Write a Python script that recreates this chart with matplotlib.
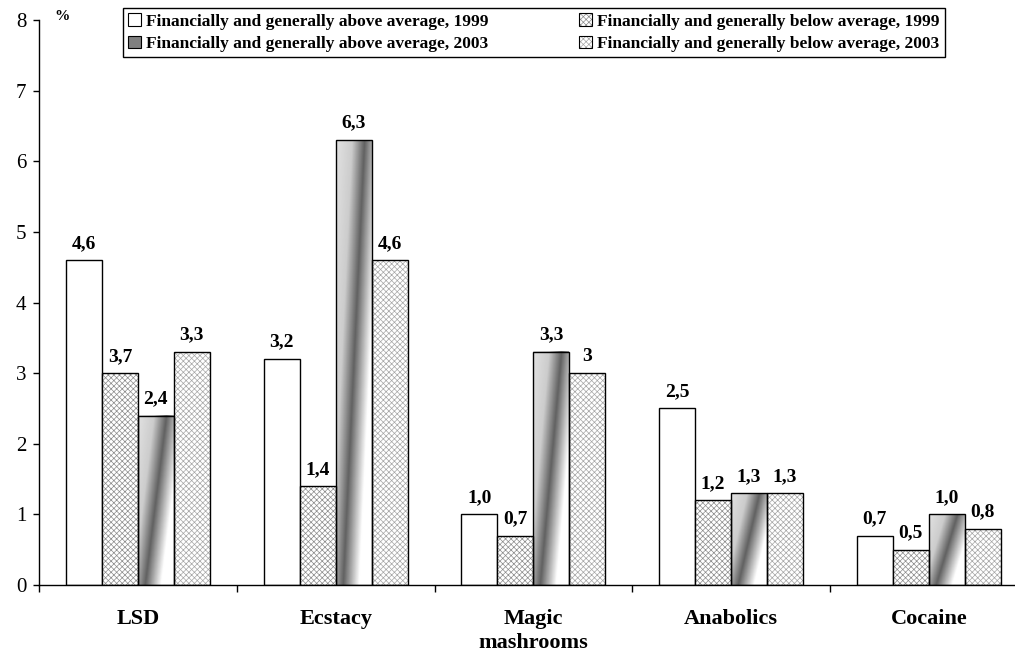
import numpy as np
import matplotlib
matplotlib.use("Agg")
import matplotlib.pyplot as plt
from matplotlib.patches import Patch

plt.rcParams["font.family"] = ["Liberation Serif", "DejaVu Serif"]
plt.rcParams["hatch.linewidth"] = 0.5

categories = ["LSD", "Ecstacy", "Magic\nmashrooms", "Anabolics", "Cocaine"]
names = ["Financially and generally above average, 1999",
         "Financially and generally below average, 1999",
         "Financially and generally above average, 2003",
         "Financially and generally below average, 2003"]
above_1999 = [4.6, 3.2, 1.0, 2.5, 0.7]
below_1999 = [3.0, 1.4, 0.7, 1.2, 0.5]
above_2003 = [2.4, 6.3, 3.3, 1.3, 1.0]
below_2003 = [3.3, 4.6, 3.0, 1.3, 0.8]
lab_above_1999 = ["4,6", "3,2", "1,0", "2,5", "0,7"]
lab_below_1999 = ["3,7", "1,4", "0,7", "1,2", "0,5"]
lab_above_2003 = ["2,4", "6,3", "3,3", "1,3", "1,0"]
lab_below_2003 = ["3,3", "4,6", "3", "1,3", "0,8"]

values = [above_1999, below_1999, above_2003, below_2003]
texts = [lab_above_1999, lab_below_1999, lab_above_2003, lab_below_2003]

fig = plt.figure(figsize=(10.15, 6.57), dpi=100)
ax = fig.add_axes([39/1015, 72/657, 976/1015, 565/657])

x = np.arange(len(categories))
w = 0.182
offs = [-1.5*w, -0.5*w, 0.5*w, 1.5*w]

# diagonal gradient fill for the 2003 above-average bars
uu, vv = np.meshgrid(np.linspace(0, 1, 60), np.linspace(1, 0, 120))
dd = uu - (0.2 + 0.6*vv)
grad = np.interp(dd, [-1, -0.35, 0, 0.45, 1], [0.92, 0.8, 0.38, 1.0, 1.0])

hatch_col = ["", "#8c8c8c", "", "#a6a6a6"]

for k in range(4):
    xs = x + offs[k]
    if k == 0:
        ax.bar(xs, values[k], w, color="white", edgecolor="black", lw=1, zorder=2)
    elif k == 2:
        bars = ax.bar(xs, values[k], w, color="none", edgecolor="black", lw=1, zorder=3)
        for b in bars:
            ax.imshow(grad, extent=[b.get_x(), b.get_x()+b.get_width(), 0, b.get_height()],
                      aspect="auto", cmap="gray", vmin=0, vmax=1, zorder=2,
                      interpolation="bilinear")
    else:
        ax.bar(xs, values[k], w, color="white", edgecolor=hatch_col[k], hatch="xxxxxx",
               lw=0, zorder=2)
        ax.bar(xs, values[k], w, color="none", edgecolor="black", lw=1, zorder=3)
    for xi, v, t in zip(xs, values[k], texts[k]):
        ax.annotate(t, (xi, v), xytext=(0, 6), textcoords="offset points",
                    ha="center", va="bottom", fontsize=14, fontweight="bold")

ax.set_yticks(range(9))
ax.tick_params(axis="y", direction="out", length=4, width=1, labelsize=15, pad=5)
ax.set_xticks(np.arange(-0.5, 4.0, 1.0))
ax.set_xticklabels([])
ax.tick_params(axis="x", which="major", direction="out", length=5, width=1)
ax.set_xticks(x, minor=True)
ax.set_xticklabels(categories, minor=True, fontsize=16, fontweight="bold", linespacing=1.3)
ax.tick_params(axis="x", which="minor", length=0, pad=17)
# limits after ticks, so the tick list does not widen the view
ax.set_xlim(-0.5, -0.5 + 976/197.75)
ax.set_ylim(0, 8)

for s in ["top", "right"]:
    ax.spines[s].set_visible(False)
ax.spines["left"].set_linewidth(1)
ax.spines["bottom"].set_linewidth(1)

fig.text(62/1015, 1 - 17/657, "%", ha="center", va="center", fontsize=11, fontweight="bold")

h0 = Patch(facecolor="white", edgecolor="black", lw=0.8)
h1 = (Patch(facecolor="white", edgecolor=hatch_col[1], hatch="xxxxxx", lw=0),
      Patch(facecolor="none", edgecolor="black", lw=0.8))
h2 = Patch(facecolor="#808080", edgecolor="black", lw=0.8)
h3 = (Patch(facecolor="white", edgecolor=hatch_col[3], hatch="xxxxxx", lw=0),
      Patch(facecolor="none", edgecolor="black", lw=0.8))
leg = fig.legend([h0, h2, h1, h3], [names[0], names[2], names[1], names[3]],
                 ncol=2, loc="upper left", mode="expand",
                 bbox_to_anchor=(123/1015, 1 - 60/657, 822/1015, 52/657),
                 bbox_transform=fig.transFigure, borderaxespad=0,
                 prop={"size": 12.5, "weight": "bold"}, handlelength=0.75, handleheight=0.75,
                 handletextpad=0.3, columnspacing=0.5, labelspacing=0.35,
                 borderpad=0.3, fancybox=False, edgecolor="black", framealpha=1)
leg.get_frame().set_linewidth(1)

fig.savefig("out.png", dpi=100)
